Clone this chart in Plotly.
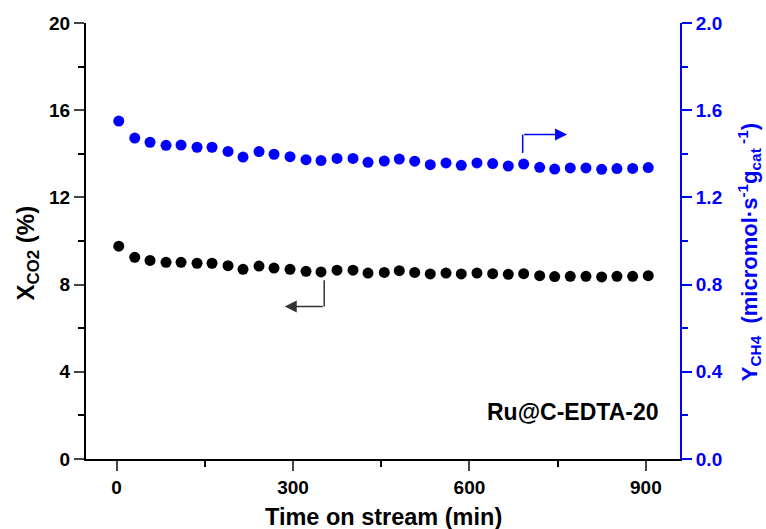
import plotly.graph_objects as go

time_min = [3.7, 30.9, 56.9, 84.1, 109.6, 136.8, 162.3, 189.5, 215, 242.2, 267.7, 294.9,
            322.1, 347.6, 374.8, 402, 427.5, 455.2, 480.7, 506.9, 533.4, 560.1, 586.1,
            612.8, 639.5, 666, 692.2, 719.4, 744.9, 771.4, 798.1, 824.8, 850.8, 877.5, 904]

x_co2 = [9.76, 9.25, 9.11, 9.02, 9.02, 8.98, 8.98, 8.87, 8.70, 8.85, 8.76, 8.70,
         8.61, 8.58, 8.66, 8.66, 8.53, 8.56, 8.64, 8.56, 8.49, 8.53, 8.49, 8.53,
         8.50, 8.47, 8.50, 8.41, 8.37, 8.38, 8.38, 8.35, 8.38, 8.38, 8.41]

y_ch4 = [1.550, 1.472, 1.453, 1.439, 1.440, 1.430, 1.430, 1.411, 1.385, 1.410, 1.398, 1.387,
         1.373, 1.369, 1.379, 1.379, 1.361, 1.367, 1.376, 1.366, 1.350, 1.358, 1.347, 1.358,
         1.355, 1.344, 1.353, 1.338, 1.330, 1.335, 1.335, 1.329, 1.332, 1.333, 1.337]

left_ticks = [0, 4, 8, 12, 16, 20]
right_ticks = [0.0, 0.4, 0.8, 1.2, 1.6, 2.0]
right_tick_text = ["0.0", "0.4", "0.8", "1.2", "1.6", "2.0"]
x_ticks = [0, 300, 600, 900]

x_title = "Time on stream (min)"
y_title = "X<sub>CO2</sub> (%)"
y2_title = "Y<sub>CH4</sub>  (micromol·s<sup>-1</sup>g<sub>cat</sub><sup> -1</sup>)"
sample_label = "Ru@C-EDTA-20"

# arrow guides (x, y pairs)
black_arrow = dict(x0=353, y_top=8.2, y_bot=7.0, x_head=286)
blue_arrow = dict(x0=690.5, y_bot=1.404, y_top=1.488, x_head=766)

FONT = "Liberation Sans, Arial, sans-serif"
BLUE = "#0000FF"

fig = go.Figure()
fig.add_trace(go.Scatter(x=time_min, y=x_co2, mode="markers",
                         marker=dict(size=11, color="black"), yaxis="y", showlegend=False))
fig.add_trace(go.Scatter(x=time_min, y=y_ch4, mode="markers",
                         marker=dict(size=11, color=BLUE), yaxis="y2", showlegend=False))

# arrow vertical segments
fig.add_shape(type="line", xref="x", yref="y", x0=black_arrow["x0"], x1=black_arrow["x0"],
              y0=black_arrow["y_top"], y1=black_arrow["y_bot"], line=dict(color="#333333", width=1.5))
fig.add_shape(type="line", xref="x", yref="y2", x0=blue_arrow["x0"], x1=blue_arrow["x0"],
              y0=blue_arrow["y_bot"], y1=blue_arrow["y_top"], line=dict(color=BLUE, width=1.5))
# arrow horizontal segments with heads
fig.add_annotation(x=black_arrow["x_head"], y=black_arrow["y_bot"], ax=black_arrow["x0"], ay=black_arrow["y_bot"],
                   xref="x", yref="y", axref="x", ayref="y", text="", showarrow=True,
                   arrowhead=2, arrowsize=1.6, arrowwidth=1.5, arrowcolor="#333333", standoff=0, startstandoff=0)
fig.add_annotation(x=blue_arrow["x_head"], y=blue_arrow["y_top"], ax=blue_arrow["x0"], ay=blue_arrow["y_top"],
                   xref="x", yref="y2", axref="x", ayref="y2", text="", showarrow=True,
                   arrowhead=2, arrowsize=1.6, arrowwidth=1.5, arrowcolor=BLUE, standoff=0, startstandoff=0)

fig.add_annotation(x=0.9685, y=0.108, xref="paper", yref="paper", xanchor="right", yanchor="middle",
                   text=sample_label, showarrow=False,
                   font=dict(family=FONT, size=23, color="black", weight="bold"))

# axis titles
fig.add_annotation(x=0.5, y=-0.133, xref="paper", yref="paper", xanchor="center", yanchor="middle",
                   text=x_title, showarrow=False,
                   font=dict(family=FONT, size=23.5, color="black", weight="bold"))
fig.add_annotation(x=-0.099, y=0.472, xref="paper", yref="paper", xanchor="center", yanchor="middle",
                   text=y_title, showarrow=False, textangle=-90,
                   font=dict(family=FONT, size=24, color="black", weight="bold"))
fig.add_annotation(x=1.116, y=0.474, xref="paper", yref="paper", xanchor="center", yanchor="middle",
                   text=y2_title, showarrow=False, textangle=-90,
                   font=dict(family=FONT, size=22, color=BLUE, weight="bold"))

fig.update_layout(
    width=766, height=529,
    margin=dict(l=86, r=86, t=23, b=70, autoexpand=False),
    paper_bgcolor="white", plot_bgcolor="white",
    font=dict(family=FONT, size=19, color="black", weight="bold"),
    xaxis=dict(range=[-52, 958], tickvals=x_ticks, ticks="outside", ticklen=10, tickwidth=2,
               showline=True, linewidth=2, linecolor="black", showgrid=False, zeroline=False,
               automargin=False,
               minor=dict(dtick=150, tick0=0, ticks="outside", ticklen=6, tickwidth=2, tickcolor="black"),
               tickfont=dict(family=FONT, size=19, color="black", weight="bold")),
    yaxis=dict(range=[0, 20], tickvals=left_ticks, ticks="outside", ticklen=10, tickwidth=2,
               showline=True, linewidth=2, linecolor="black", showgrid=False, zeroline=False,
               automargin=False,
               minor=dict(dtick=2, tick0=0, ticks="outside", ticklen=6, tickwidth=2, tickcolor="black"),
               tickfont=dict(family=FONT, size=19, color="black", weight="bold")),
    yaxis2=dict(range=[0, 2], overlaying="y", side="right", anchor="x", automargin=False,
                tickvals=right_ticks, ticktext=right_tick_text, ticks="outside", ticklen=10, tickwidth=2,
                tickcolor=BLUE, showline=True, linewidth=2, linecolor=BLUE, showgrid=False, zeroline=False,
                minor=dict(dtick=0.2, tick0=0, ticks="outside", ticklen=6, tickwidth=2, tickcolor=BLUE),
                tickfont=dict(family=FONT, size=19, color=BLUE, weight="bold")),
)

fig.write_html("out.html")
